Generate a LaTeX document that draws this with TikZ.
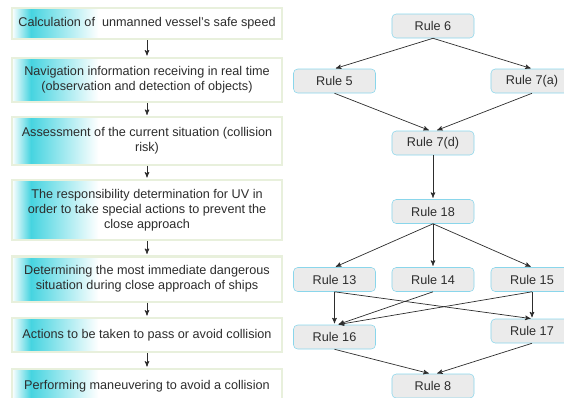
\documentclass[tikz,border=0pt]{standalone}
\usepackage{fontspec}
\setmainfont{Liberation Sans}
\usetikzlibrary{arrows,shapes}
\definecolor{glowcyan}{RGB}{70,212,224}
\definecolor{boxrim}{RGB}{232,240,220}
\definecolor{rulefill}{RGB}{235,235,235}
\definecolor{ruleline}{RGB}{138,214,235}
\definecolor{ink}{RGB}{45,45,45}
\pgfdeclarehorizontalshading{glow}{100bp}{color(0bp)=(white); color(25bp)=(white); color(28.5bp)=(glowcyan); color(41bp)=(white); color(100bp)=(white)}
\tikzstyle{every picture}=[>=stealth', shorten >=1pt, node distance=2cm]
\tikzstyle{stage}=[rectangle, draw=boxrim, line width=1.5pt, shade, shading=glow,%
	minimum width=6.75cm, align=center, text=ink, font=\fontsize{9}{10.6}\selectfont]
\tikzstyle{rule}=[rectangle, rounded corners=3pt, draw=ruleline, fill=rulefill,%
	minimum width=2.05cm, minimum height=0.6cm, text=ink, font=\fontsize{9}{10.6}\selectfont]
\tikzstyle{link}=[->, draw=ink, line width=0.5pt]

\begin{document}
\begin{tikzpicture}[x=0.025cm, y=-0.025cm]
	\useasboundingbox (0,0) rectangle (564,397);
	% stages of the decision process
	\node[stage, minimum height=0.78cm] (speed) at (147,23.5) {Calculation of~ unmanned vessel's safe speed};
	\node[stage, minimum height=1.1cm, below of=speed, node distance=1.4125cm] (info) {Navigation information receiving in real time\\(observation and detection of objects)};
	\node[stage, minimum height=1.18cm, below of=info, node distance=1.525cm] (assess) {Assessment of the current situation (collision\\risk)};
	\node[stage, minimum height=1.5cm, below of=assess, node distance=1.725cm] (resp) {The responsibility determination for UV in\\order to take special actions to prevent the\\close approach};
	\node[stage, minimum height=1.13cm, below of=resp, node distance=1.725cm] (danger) {Determining the most immediate dangerous\\situation during close approach of ships};
	\node[stage, minimum height=0.85cm, below of=danger, node distance=1.4cm] (act) {Actions to be taken to pass or avoid collision};
	\node[stage, minimum height=0.85cm, below of=act, node distance=1.275cm] (man) {Performing maneuvering to avoid a collision};
	\draw[link] (speed) -- (info);
	\draw[link] (info) -- (assess);
	\draw[link] (assess) -- (resp);
	\draw[link] (resp) -- (danger);
	\draw[link] (danger) -- (act);
	\draw[link] (act) -- (man);
	% rules
	\node[rule] (r6) at (433,26) {Rule 6};
	\node[rule] (r5) at (334.5,81) {Rule 5};
	\node[rule] (r7a) at (532,81) {Rule 7(a)};
	\node[rule] (r7d) at (433,143) {Rule 7(d)};
	\node[rule] (r18) at (433,211.5) {Rule 18};
	\node[rule] (r13) at (334.5,279.5) {Rule 13};
	\node[rule] (r14) at (433,279.5) {Rule 14};
	\node[rule] (r15) at (532,279.5) {Rule 15};
	\node[rule] (r16) at (334.5,337) {Rule 16};
	\node[rule] (r17) at (532,331) {Rule 17};
	\node[rule] (r8) at (433,386) {Rule 8};
	\draw[link] (r6.south) -- (r5.north);
	\draw[link] (r6.south) -- (r7a.north);
	\draw[link] (r5.south) -- ([xshift=-2pt]r7d.north);
	\draw[link] (r7a.south) -- ([xshift=2pt]r7d.north);
	\draw[link] (r7d) -- (r18);
	\draw[link] (r18.south) -- (r13.north);
	\draw[link] (r18.south) -- (r14.north);
	\draw[link] (r18.south) -- (r15.north);
	\draw[link] (r13.south) -- (r16.north);
	\draw[link] (r13.south) -- (r17.north);
	\draw[link] (r14.south) -- ([xshift=2pt]r16.north);
	\draw[link] (r15.south) -- ([xshift=2pt]r16.north);
	\draw[link] (r15.south) -- (r17.north);
	\draw[link] (r16.south) -- ([xshift=-2pt]r8.north);
	\draw[link] (r17.south) -- ([xshift=2pt]r8.north);
\end{tikzpicture}
\end{document}
